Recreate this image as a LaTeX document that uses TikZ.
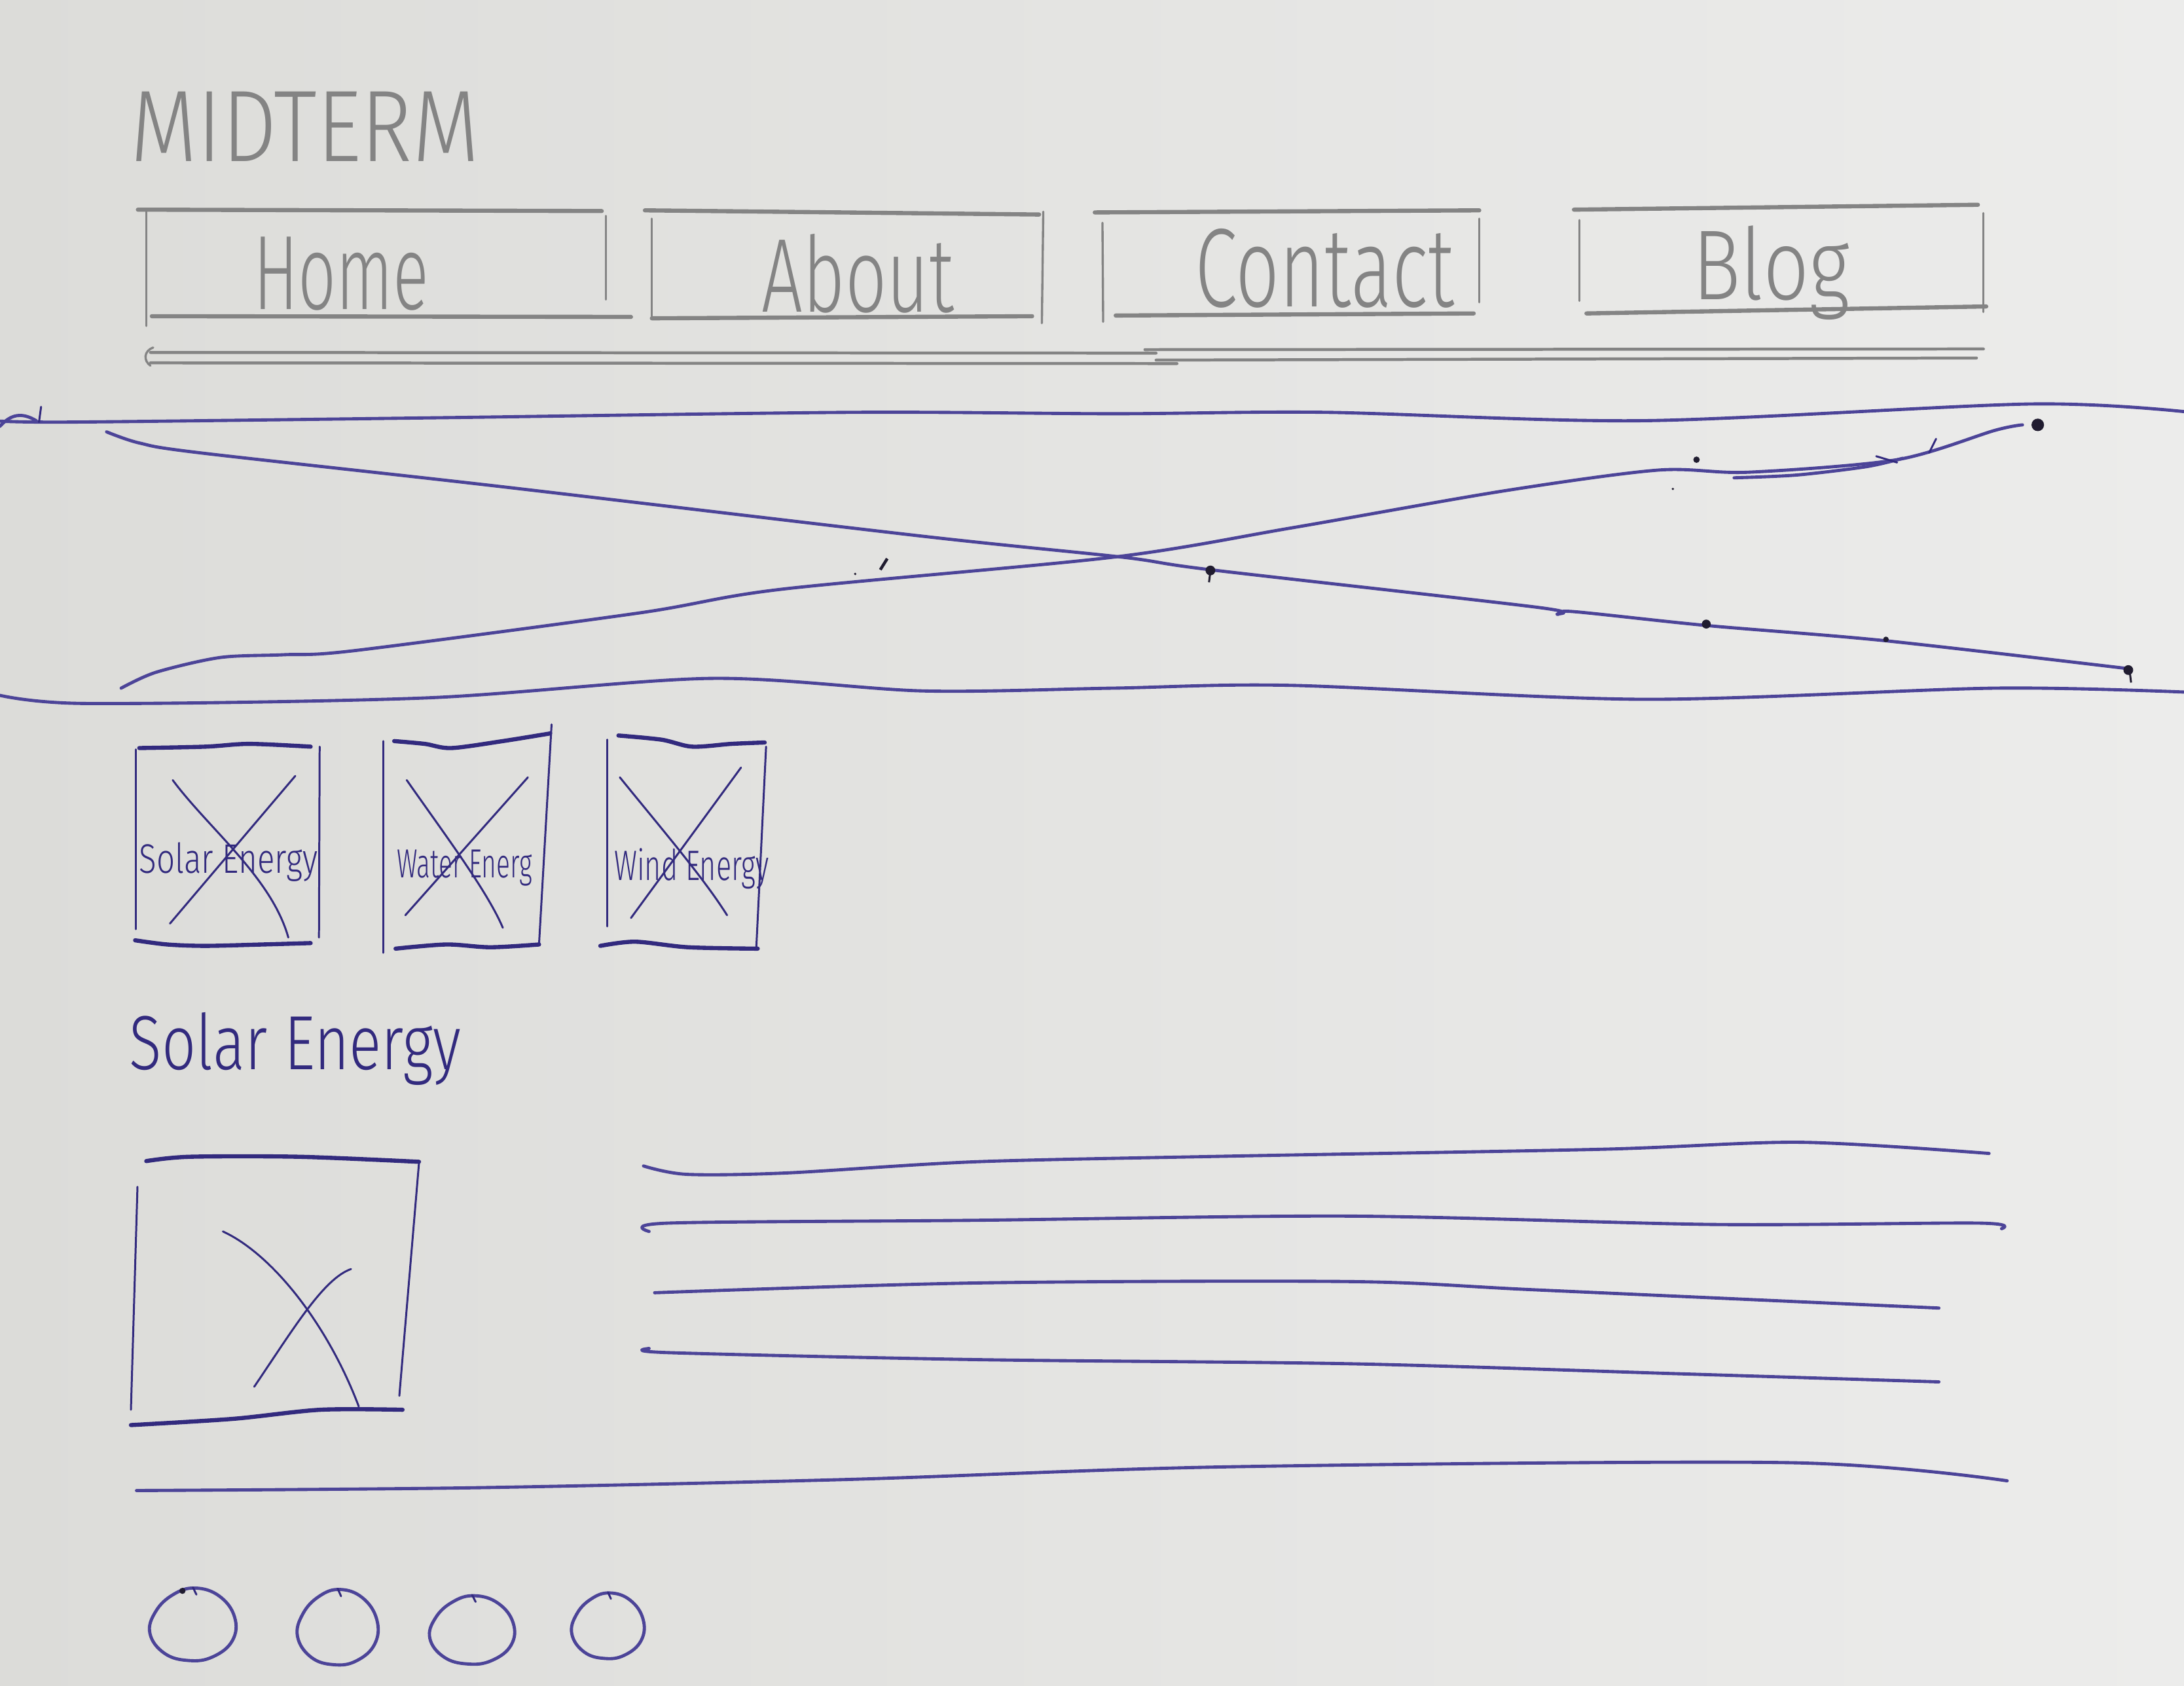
\documentclass[tikz,border=0pt]{standalone}
\usepackage{fontspec}
\usepackage{graphicx}
% thin sans for the hand lettering, with a regular fallback
\IfFontExistsTF{Fira Sans Light}
  {\newfontfamily\handfont{Fira Sans Light}}
  {\IfFontExistsTF{Lato Light}
     {\newfontfamily\handfont{Lato Light}}
     {\newfontfamily\handfont{Fira Sans}}}
\definecolor{paperL}{RGB}{220,220,217}
\definecolor{paperR}{RGB}{236,236,235}
\definecolor{pencil}{RGB}{132,132,132}
\definecolor{ink}{RGB}{50,42,126}
\definecolor{inklight}{RGB}{76,68,152}
\definecolor{blot}{RGB}{32,28,48}

\tikzset{
  label text/.style={anchor=base west, inner sep=0pt, outer sep=0pt, font=\handfont},
  pencil stroke/.style={draw=pencil, line width=1.7pt, line cap=round, line join=round},
  pencil mid/.style={draw=pencil, line width=1.2pt, line cap=round},
  pencil thin/.style={draw=pencil, line width=0.9pt, line cap=round},
  ink thick/.style={draw=ink, line width=1.7pt, line cap=round, line join=round},
  ink thin/.style={draw=ink, line width=0.8pt, line cap=round},
  ink line/.style={draw=inklight, line width=1.3pt, line cap=round, line join=round},
  egg/.pic={
    \draw[ink line] plot[smooth cycle, tension=0.7] coordinates
      {(0.05,-1) (0.6,-0.78) (0.95,-0.2) (0.9,0.45) (0.45,0.9) (-0.1,1)
       (-0.65,0.8) (-0.98,0.25) (-0.85,-0.35) (-0.45,-0.82)};
    \draw[ink thin] (0.0,-1.02) -- (0.08,-0.82);
  }
}

\begin{document}
\begin{tikzpicture}[x=0.2mm, y=-0.2mm]
% paper
\shade[left color=paperL, right color=paperR] (0,0) rectangle (1568,1210);
\useasboundingbox (0,0) rectangle (1568,1210);

% ---------- title ----------
\node[label text, text=pencil] (title) at (94,116) {\resizebox{50mm}{10mm}{MIDTERM}};

% ---------- navigation (pencil) ----------
% Home
\draw[pencil stroke] (99,150.5) -- (432,151.5);
\draw[pencil thin] (105,152) -- (105,234);
\draw[pencil thin] (435,155) -- (435,215);
\draw[pencil stroke] (109,227) -- (453,227.5);
\node[label text, text=pencil] (home) at (182,222) {\resizebox{25.2mm}{10.4mm}{Home}};
% About
\draw[pencil stroke] (463,151) -- (746,154);
\draw[pencil thin] (468,157) -- (468,227);
\draw[pencil thin] (749,152) -- (748,232);
\draw[pencil stroke] (468,228.5) -- (741,227);
\node[label text, text=pencil] (about) at (547,224) {\resizebox{27.6mm}{11.2mm}{About}};
% Contact
\draw[pencil stroke] (786,152.5) -- (1062,151);
\draw[pencil thin] (791.5,160) -- (792,231);
\draw[pencil thin] (1062,157) -- (1062,217);
\draw[pencil stroke] (801,226.5) -- (1058,225);
\node[label text, text=pencil] (contact) at (858,220) {\resizebox{37.2mm}{11.2mm}{Contact}};
% Blog
\draw[pencil stroke] (1130,150.5) -- (1420,147);
\draw[pencil thin] (1134,158) -- (1134,216);
\draw[pencil thin] (1424,153) -- (1424,224);
\draw[pencil stroke] (1139,225) -- (1426,220);
\node[label text, text=pencil] (blog) at (1215,215) {\resizebox{22.6mm}{10.6mm}{Blog}};
% double rule under the menu
\draw[pencil mid] (108,253) -- (830,253.5);
\draw[pencil mid] (108,260.5) -- (845,261);
\draw[pencil mid] (822,251) -- (1424,250.5);
\draw[pencil mid] (830,258.5) -- (1419,257);
\draw[pencil thin] (110,249.5) .. controls (103,252) and (103,259) .. (108,262.5);

% ---------- hero banner ----------
\draw[ink line] plot[smooth] coordinates {(-5,302) (51,303) (306,300) (612,296) (800,297) (952,296) (1180,302) (1458,290) (1573,296)};
\draw[ink line] (0,306) .. controls (8,297) and (16,296) .. (26,302);
\draw[ink thin] (29.5,292) -- (28,303);
\draw[ink line] plot[smooth] coordinates {(-5,498) (61,505) (306,501) (510,487) (663,496) (799,494) (927,492) (1180,502) (1432,494) (1573,497)};
% crossing diagonals
\draw[ink line] plot[smooth] coordinates {(76.5,310) (100,318) (143,325) (357,349) (663,385) (806,400) (869,409) (1104,436) (1118,441) (1129,439) (1225,449) (1354,460) (1528,480)};
\draw[ink line] plot[smooth] coordinates {(87,494) (112,482.6) (158,472) (204,470) (255,467) (459,440) (561,423) (799,400) (927,379) (1079,352.5) (1190,337.5) (1255,339) (1362,330) (1432,309) (1452,305)};
\draw[ink line] plot[smooth] coordinates {(1245,343) (1290,341) (1340,335) (1366,329)};
\draw[ink thin] (1347,327.5) -- (1362,332);
\draw[ink thin] (1385,325) -- (1390,315);
% ink blots
\fill[blot] (1463,305) circle (4.5);
\fill[blot] (869,409.5) circle (3.5);
\draw[blot, line width=0.8pt] (869,410) -- (868,418);
\fill[blot] (1225,448) circle (3.2);
\fill[blot] (1354,459) circle (2);
\fill[blot] (1528,481) circle (3.5);
\draw[blot, line width=0.8pt] (1529,482) -- (1530,490);
\fill[blot] (1218,330) circle (2.3);
\draw[blot, line width=1.2pt] (632,409) -- (637,401);
\fill[blot] (614,412) circle (0.9);
\fill[blot] (1201,351) circle (0.9);

% ---------- three feature tiles ----------
% tile 1
\draw[ink thick] plot[smooth] coordinates {(100,537) (147.5,536) (179,534) (223,536)};
\draw[ink thin] (97.5,538) -- (97.5,667);
\draw[ink thin] (229.5,536) -- (229,673);
\draw[ink thick] plot[smooth] coordinates {(97,675) (120,678) (147.5,679) (188.5,678) (223,677)};
\draw[ink thin] (124,560) .. controls (150,595) and (195,630) .. (207,673);
\draw[ink thin] (212,557) -- (122,663);
\node[label text, text=ink] (tile1) at (100,627) {\resizebox{25.6mm}{4.4mm}{Solar Energy}};
% tile 2
\draw[ink thick] plot[smooth] coordinates {(283,532) (305,534) (324,537) (361,532) (395,526.5)};
\draw[ink thin] (275,532) -- (275,684);
\draw[ink thin] (396,520) -- (387,678);
\draw[ink thick] plot[smooth] coordinates {(284,681) (320.5,678) (352,680) (387,678)};
\draw[ink thin] (292,560) .. controls (320,600) and (350,640) .. (361,666);
\draw[ink thin] (379,558) -- (291,657);
\node[label text, text=ink] (tile2) at (285,630) {\resizebox{19.4mm}{4mm}{Water Energ}};
% tile 3
\draw[ink thick] plot[smooth] coordinates {(444,528) (475,531) (497,536) (525,534) (549,533)};
\draw[ink thin] (436,531) -- (436,665);
\draw[ink thin] (550,536) -- (543,680);
\draw[ink thick] plot[smooth] coordinates {(431,679) (456,676) (494,680) (544,681)};
\draw[ink thin] (445,558) .. controls (475,595) and (505,630) .. (522,657);
\draw[ink thin] (532,551) -- (453,659);
\node[label text, text=ink] (tile3) at (441,632) {\resizebox{22.2mm}{4.6mm}{Wind Energy}};

% ---------- section heading ----------
\node[label text, text=ink] (heading) at (93,768) {\resizebox{47.6mm}{8.2mm}{Solar Energy}};

% ---------- article image ----------
\draw[ink thick] plot[smooth] coordinates {(105,833.5) (136,830.4) (214.7,830.4) (300.8,834)};
\draw[ink thin] (98.7,852) -- (94,1012);
\draw[ink thin] (300.8,835) -- (286.7,1002);
\draw[ink thick] plot[smooth] coordinates {(94,1023) (167.6,1018.5) (230,1012) (289,1012)};
\draw[ink thin] (160,884) .. controls (195,900) and (235,950) .. (257.6,1009.7);
\draw[ink thin] (252,911) .. controls (232,918) and (210,955) .. (182.5,995.5);

% ---------- article text lines ----------
\draw[ink line] plot[smooth] coordinates {(462,837) (493,843) (565,842) (700,834) (880,830) (1150,825) (1293,820) (1428,828)};
\draw[ink line] plot[smooth] coordinates {(466,884) (480,878) (700,876) (970,873) (1230,879) (1420,878) (1437,882)};
\draw[ink line] plot[smooth] coordinates {(470,928) (700,921) (970,920) (1104,926) (1392,939)};
\draw[ink line] plot[smooth] coordinates {(466,968) (480,971) (700,976) (970,979) (1200,986) (1392,992)};

% ---------- footer rule ----------
\draw[ink line] plot[smooth] coordinates {(98,1070) (340,1068) (610,1062) (880,1053) (1285,1050) (1441,1063)};

% ---------- footer icons ----------
\path (138.5,1166) pic[xscale=31.5, yscale=26] {egg};
\path (242.5,1168) pic[xscale=29.5, yscale=27] {egg};
\path (339,1170) pic[xscale=31, yscale=24.5] {egg};
\path (436.5,1167) pic[xscale=26.5, yscale=23.5] {egg};
\fill[blot] (131,1142) circle (2.2);
\end{tikzpicture}
\end{document}
